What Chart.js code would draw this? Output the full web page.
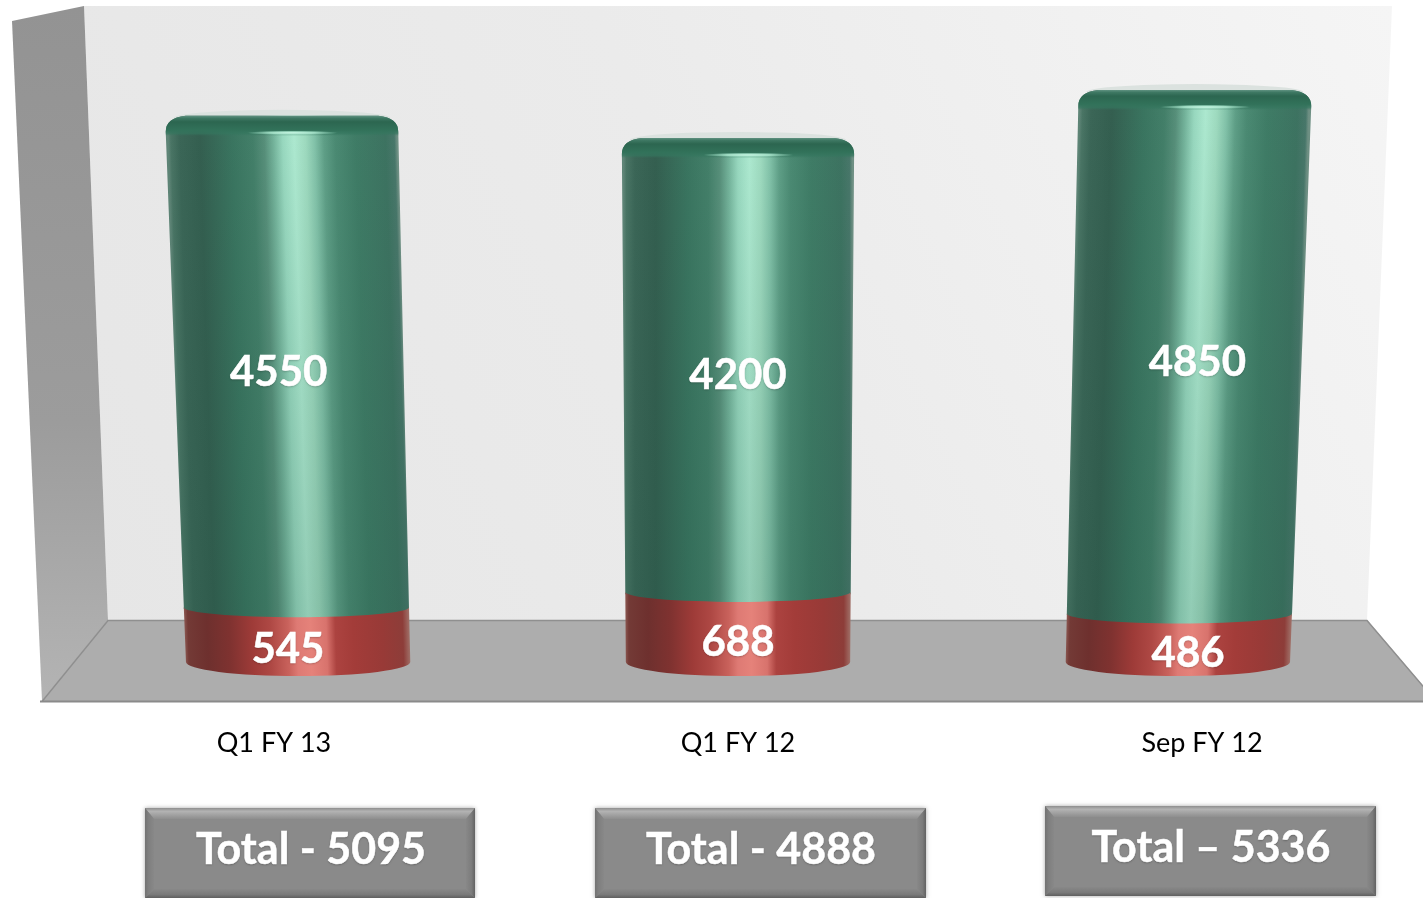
<!DOCTYPE html>
<html><head><meta charset="utf-8">
<style>html,body{margin:0;padding:0;background:#fff;overflow:hidden;width:1423px;height:898px}canvas{display:block}</style>
<script src="https://cdn.jsdelivr.net/npm/chart.js@4"></script>
</head><body><canvas id="c" width="1434" height="898"></canvas>
<script>
const categories = ["Q1 FY 13", "Q1 FY 12", "Sep FY 12"];
const redValues = [545, 688, 486];
const greenValues = [4550, 4200, 4850];
const totalLabels = ["Total - 5095", "Total - 4888", "Total \u2013 5336"];
const greenStops = [[0,'#5f8577'],[0.012,'#4a7565'],[0.05,'#3b6657'],[0.14,'#345f50'],[0.28,'#3a7560'],[0.37,'#437f69'],[0.42,'#578f7a'],[0.46,'#74b39b'],[0.50,'#98d8bf'],[0.55,'#ade9d0'],[0.60,'#9edabf'],[0.64,'#82c2a9'],[0.68,'#5f9f87'],[0.73,'#4b8a73'],[0.82,'#3f7c66'],[0.95,'#3d7361'],[0.988,'#48776a'],[1,'#6f9084']];
const redStops = [[0,'#8a5650'],[0.015,'#733a36'],[0.1,'#6e302e'],[0.2,'#7f3230'],[0.3,'#9e3b38'],[0.38,'#ae4844'],[0.46,'#c9625c'],[0.5,'#de7a74'],[0.56,'#e5827a'],[0.63,'#d8736d'],[0.67,'#ac4340'],[0.75,'#a33c39'],[0.88,'#983a37'],[0.97,'#8d3d39'],[1,'#a07068']];
const DEPTH = 0.948, PERSP = 7.2e-6;

function mkGrad(ctx, x0, x1, stops){
  const g = ctx.createLinearGradient(x0,0,x1,0);
  stops.forEach(s=>g.addColorStop(s[0],s[1]));
  return g;
}
function drawBar(chart, bar, isTop){
  const ctx = chart.ctx, ys = chart.scales.y, area = chart.chartArea, mid = (area.left+area.right)/2;
  const proj = (px,py)=> mid+(px-mid)*DEPTH*(1+PERSP*ys.getValueForPixel(py));
  const yT = bar.y, yB = bar.base, hw = bar.width/2;
  const L0 = proj(bar.x-hw,yB), R0 = proj(bar.x+hw,yB), L1 = proj(bar.x-hw,yT), R1 = proj(bar.x+hw,yT);
  const c0=(L0+R0)/2, c1=(L1+R1)/2, h0=(R0-L0)/2, h1=(R1-L1)/2;
  ctx.save();
  if(isTop){
    ctx.fillStyle='#dbe2df';
    ctx.beginPath();ctx.ellipse(c1,yT-1,h1-8,8,0,0,Math.PI*2);ctx.fill();
  }
  ctx.beginPath();
  if(isTop){
    const r=13;
    ctx.moveTo(L1,yT+r);
    ctx.lineTo(L0,yB);
    ctx.ellipse(c0,yB+3,h0,10,0,Math.PI,0,true);
    ctx.lineTo(R1,yT+r);
    ctx.quadraticCurveTo(R1,yT-1,R1-20,yT-3);
    ctx.lineTo(L1+20,yT-3);
    ctx.quadraticCurveTo(L1,yT-1,L1,yT+r);
  } else {
    ctx.moveTo(L1,yT+1.5);
    ctx.lineTo(L0,yB-2);
    ctx.ellipse(c0,yB-2,h0,14,0,Math.PI,0,true);
    ctx.lineTo(R1,yT+1.5);
    ctx.ellipse(c1,yT+1.5,h1,10,0,0,Math.PI,false);
  }
  ctx.closePath();
  ctx.clip();
  const shear=(c0-c1)/(yB-yT), hAvg=(h0+h1)/2;
  ctx.save();
  ctx.transform(1,0,shear,1,-shear*yT,0);
  ctx.fillStyle=mkGrad(ctx,c1-hAvg,c1+hAvg,isTop?greenStops:redStops);
  ctx.fillRect(c1-hAvg-30,yT-20,hAvg*2+60,yB-yT+60);
  ctx.restore();
  if(isTop){
    const v=ctx.createLinearGradient(0,yT,0,yB);
    v.addColorStop(0,'rgba(25,75,60,0)');v.addColorStop(1,'rgba(25,75,60,0.18)');
    ctx.fillStyle=v;ctx.fillRect(Math.min(L0,L1)-30,yT,Math.max(R0,R1)-Math.min(L0,L1)+60,yB-yT+20);
    const lip=ctx.createLinearGradient(0,yT-3,0,yT+17);
    lip.addColorStop(0,'rgba(95,145,128,1)');
    lip.addColorStop(0.12,'rgba(62,120,99,1)');
    lip.addColorStop(0.3,'rgba(44,102,80,1)');
    lip.addColorStop(0.72,'rgba(50,114,90,1)');
    lip.addColorStop(0.88,'rgba(52,118,94,0.7)');
    lip.addColorStop(1,'rgba(52,118,94,0)');
    ctx.fillStyle=lip;ctx.fillRect(L1-5,yT-4,R1-L1+10,22);
    const hx=c1-h1+2*h1*0.545, hy=yT+14;
    ctx.save();ctx.translate(hx,hy);ctx.scale(1,0.05);
    const sp=ctx.createRadialGradient(0,0,0,0,0,46);
    sp.addColorStop(0,'rgba(205,250,232,1)');sp.addColorStop(0.5,'rgba(180,240,215,0.8)');sp.addColorStop(1,'rgba(170,235,210,0)');
    ctx.fillStyle=sp;ctx.beginPath();ctx.arc(0,0,46,0,Math.PI*2);ctx.fill();ctx.restore();
  }
  ctx.restore();
}

const scenePlugin = {
  id:'scene',
  beforeDatasetsDraw(chart){
    const ctx=chart.ctx;
    ctx.save();
    const poly=(pts,fill)=>{ctx.beginPath();pts.forEach((p,i)=>i?ctx.lineTo(p[0],p[1]):ctx.moveTo(p[0],p[1]));ctx.closePath();ctx.fillStyle=fill;ctx.fill();};
    const back=ctx.createLinearGradient(84,620,1392,6);
    back.addColorStop(0,'#e6e6e6');back.addColorStop(0.5,'#ebebeb');back.addColorStop(1,'#f5f5f5');
    poly([[84,6],[1392,6],[1367,620],[108,620]],back);
    const wall=ctx.createLinearGradient(0,6,0,701);
    wall.addColorStop(0,'#939393');wall.addColorStop(0.6,'#9c9c9c');wall.addColorStop(1,'#b4b4b4');
    poly([[12,21],[84,6],[108,620],[42,701]],wall);
    poly([[108,620],[1367,620],[1436,701],[42,701]],'#adadad');
    ctx.lineWidth=1.5;ctx.strokeStyle='#8f8f8f';
    ctx.beginPath();ctx.moveTo(42,701.5);ctx.lineTo(108,620.5);ctx.lineTo(1367,620.5);ctx.lineTo(1436,701.5);ctx.stroke();
    ctx.lineWidth=2;ctx.strokeStyle='#8a8a8a';
    ctx.beginPath();ctx.moveTo(40,701.5);ctx.lineTo(1434,701.5);ctx.stroke();
    ctx.restore();
  },
  beforeDatasetDraw(chart,args){
    const meta=chart.getDatasetMeta(args.index);
    meta.data.forEach(b=>drawBar(chart,b,args.index===1));
    return false;
  },
  afterDatasetsDraw(chart){
    const ctx=chart.ctx, area=chart.chartArea, mid=(area.left+area.right)/2;
    const heavy=(s,x,y)=>{ctx.fillText(s,x,y);ctx.save();ctx.shadowColor='transparent';ctx.strokeStyle='#fff';ctx.lineWidth=0.5;ctx.strokeText(s,x,y);ctx.restore();};
    ctx.save();
    ctx.textAlign='center';ctx.textBaseline='middle';ctx.fillStyle='#fff';
    ctx.font='bold 42px Lato';
    ctx.shadowColor='rgba(0,0,0,0.25)';ctx.shadowBlur=2;ctx.shadowOffsetY=1;
    chart.getDatasetMeta(0).data.forEach((b,i)=>{
      heavy(String(redValues[i]),mid+(b.x-mid)*0.97,(b.y+b.base)/2+15);
    });
    chart.getDatasetMeta(1).data.forEach((b,i)=>{
      heavy(String(greenValues[i]),mid+(b.x-mid)*0.99,(b.y+b.base)/2+10);
    });
    ctx.restore();
    const boxes=[[145,808,330,90],[595,808,331,90],[1045,806,331,90]];
    boxes.forEach((bx,i)=>{
      const [x,y,w,h]=bx, t=9;
      ctx.save();
      ctx.shadowColor='rgba(0,0,0,0.35)';ctx.shadowBlur=4;
      ctx.fillStyle='#8a8a8a';ctx.fillRect(x,y,w,h);
      ctx.restore();
      const tr=(pts,f)=>{ctx.beginPath();pts.forEach((p,k)=>k?ctx.lineTo(p[0],p[1]):ctx.moveTo(p[0],p[1]));ctx.closePath();ctx.fillStyle=f;ctx.fill();};
      const top=ctx.createLinearGradient(0,y,0,y+t+2);top.addColorStop(0,'#8e8e8e');top.addColorStop(0.3,'#b3b3b3');top.addColorStop(0.75,'#9b9b9b');top.addColorStop(1,'#8e8e8e');
      tr([[x,y],[x+w,y],[x+w-t,y+t+2],[x+t,y+t+2]],top);
      const lf=ctx.createLinearGradient(x,0,x+t,0);lf.addColorStop(0,'#727272');lf.addColorStop(0.4,'#7f7f7f');lf.addColorStop(1,'#888888');
      tr([[x,y],[x+t,y+t+2],[x+t,y+h-t],[x,y+h]],lf);
      const rt=ctx.createLinearGradient(x+w-t,0,x+w,0);rt.addColorStop(0,'#888888');rt.addColorStop(0.6,'#7c7c7c');rt.addColorStop(1,'#626262');
      tr([[x+w,y],[x+w-t,y+t+2],[x+w-t,y+h-t],[x+w,y+h]],rt);
      const bt=ctx.createLinearGradient(0,y+h-t,0,y+h);bt.addColorStop(0,'#888888');bt.addColorStop(0.6,'#7a7a7a');bt.addColorStop(1,'#5f5f5f');
      tr([[x,y+h],[x+t,y+h-t],[x+w-t,y+h-t],[x+w,y+h]],bt);
      ctx.fillStyle='#8a8a8a';ctx.fillRect(x+t,y+t+2,w-2*t,h-2*t-2);
      ctx.save();
      ctx.font='bold 43px Lato';ctx.textAlign='center';ctx.textBaseline='middle';ctx.fillStyle='#fff';
      ctx.shadowColor='rgba(0,0,0,0.3)';ctx.shadowBlur=2;ctx.shadowOffsetY=1;
      heavy(totalLabels[i],[311,761,1211][i],y+42);
      ctx.restore();
    });
  }
};

new Chart(document.getElementById('c'),{
  type:'bar',
  data:{labels:categories,datasets:[
    {label:'Lower',data:redValues,backgroundColor:'#a33b38',stack:'s'},
    {label:'Upper',data:greenValues,backgroundColor:'#3e7c66',stack:'s'}
  ]},
  plugins:[scenePlugin],
  options:{
    responsive:false,animation:false,
    layout:{padding:{top:22,left:42,right:0,bottom:0}},
    datasets:{bar:{barPercentage:0.51,categoryPercentage:1}},
    plugins:{legend:{display:false},tooltip:{enabled:false},title:{display:false}},
    scales:{
      x:{stacked:true,grid:{display:false},border:{display:false},
        afterFit(s){s.height=234;},
        ticks:{color:'#000',font:{family:'Lato',size:27},padding:55,maxRotation:0,autoSkip:false}},
      y:{stacked:true,display:false,min:0,max:6000}
    }
  }
});
</script></body></html>
